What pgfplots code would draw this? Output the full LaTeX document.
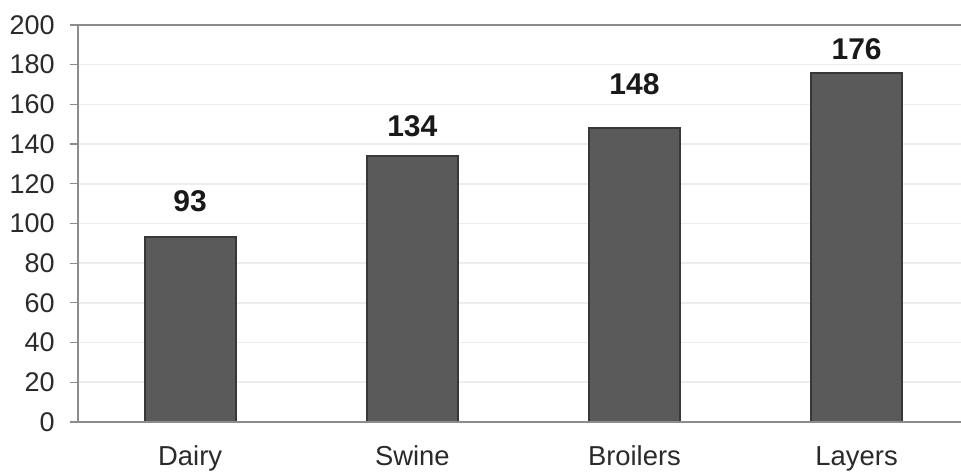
\documentclass[border=0pt]{standalone}
\usepackage{pgfplots}
\pgfplotsset{compat=1.18}
\usepackage{fontspec}
\setmainfont{Liberation Sans}
\definecolor{barfill}{HTML}{5A5A5A}
\definecolor{baredge}{HTML}{383838}
\definecolor{axgray}{HTML}{8C8C8C}
\definecolor{gridgray}{HTML}{EDEDED}
\definecolor{ticktext}{HTML}{2A2A2A}
\begin{document}
\begin{tikzpicture}
\begin{axis}[
  scale only axis,
  width=441.5pt, height=198.5pt,
  xmin=-0.505, xmax=3.47,
  ymin=0, ymax=200,
  ytick={0,20,...,200},
  xtick={0,1,2,3},
  xticklabels={Dairy,Swine,Broilers,Layers},
  axis line style={draw=none},
  ymajorgrids,
  grid style={color=gridgray, line width=0.8pt},
  tick align=outside,
  major tick length=4pt,
  ytick style={color=axgray, line width=0.6pt},
  xtick style={draw=none},
  /pgf/number format/assume math mode=true,
  yticklabel style={font=\fontsize{13.5}{16}\selectfont, text=ticktext, anchor=east, inner sep=0pt, xshift=-7.5pt},
  xticklabel style={font=\fontsize{13.7}{16}\selectfont, text=ticktext, anchor=base, inner sep=0pt, yshift=-18pt},
  clip=false,
]
\addplot[ybar, bar width=0.41, fill=barfill, draw=baredge, line width=1pt]
  coordinates {(0,93) (1,134) (2,148) (3,176)};
\addplot[draw=none, mark=none, nodes near coords, point meta=explicit symbolic,
  every node near coord/.append style={anchor=center, font=\fontsize{15}{18}\selectfont\bfseries, text=black!90, inner sep=0pt}]
  table[meta=label] {
x y label
0 111.3 93
1 149.1 134
2 170.3 148
3 187.9 176
};
\draw[axgray, line width=1pt] (rel axis cs:0,1) -- (rel axis cs:0,0) -- (rel axis cs:1,0);
\draw[axgray, line width=1pt] (rel axis cs:0,1) -- (rel axis cs:1,1);
\end{axis}
\pgfresetboundingbox
\path ([xshift=-39pt,yshift=-26pt]current axis.south west) rectangle ([yshift=12.5pt]current axis.north east);
\end{tikzpicture}
\end{document}
